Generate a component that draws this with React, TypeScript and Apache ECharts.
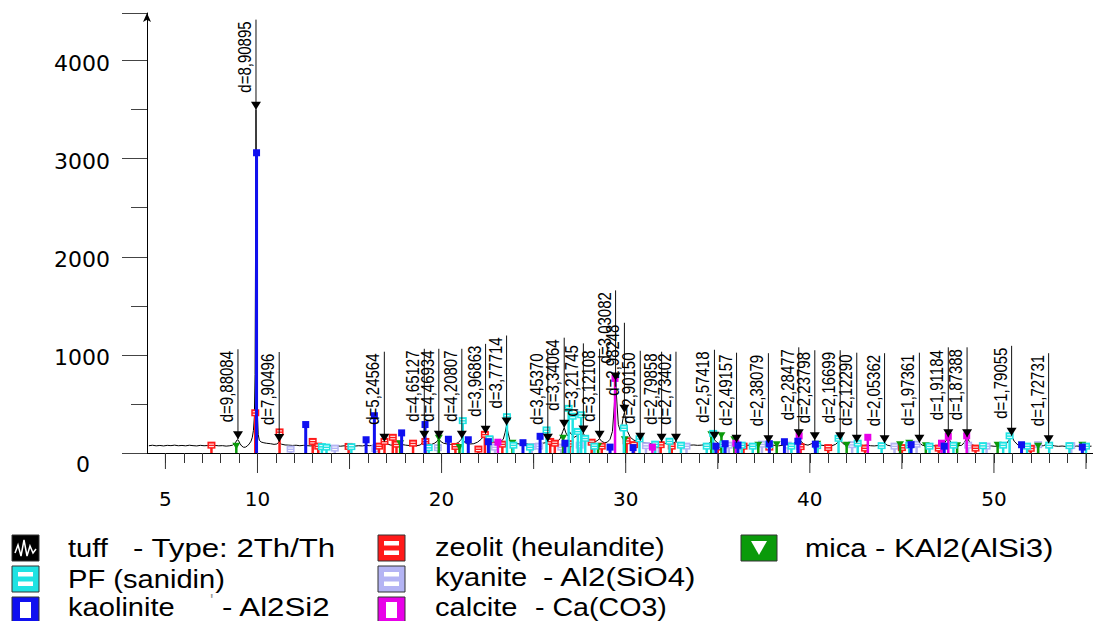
import React, { useEffect, useRef } from 'react';
import * as echarts from 'echarts';

// ---- measured tuff profile: [2theta, counts] ----
const tuffProfile: [number, number][] = [
  [4.1,74],[4.3,79],[4.5,73],[4.7,77],[4.9,72],[5.1,78],[5.3,75],[5.5,80],[5.7,74],[5.9,77],[6.1,73],[6.3,79],[6.5,75],[6.7,72],[6.9,78],[7.1,74],[7.3,76],[7.5,71],[7.7,77],[7.9,73],[8.1,75],[8.3,70],[8.5,74],[8.65,80],[8.8,105],[8.9,135],[8.97,128],[9.05,95],[9.15,70],[9.25,58],[9.35,60],[9.45,72],[9.55,92],[9.65,120],[9.72,160],[9.78,230],[9.83,360],[9.87,800],[9.9,2300],[9.92,3500],[9.94,2700],[9.97,1100],[10.0,380],[10.04,190],[10.1,130],[10.2,112],[10.35,104],[10.5,99],[10.7,95],[10.9,88],[11.05,92],[11.18,112],[11.3,90],[11.5,82],[11.7,80],[11.9,77],[12.1,79],[12.3,74],[12.5,78],[12.7,75],[12.9,72],[13.1,77],[13.3,73],[13.5,76],[13.7,71],[13.9,75],[14.1,70],[14.3,74],[14.5,69],[14.7,73],[14.9,70],[15.1,75],[15.3,71],[15.5,74],[15.7,72],[15.9,78],[16.1,74],[16.3,80],[16.5,77],[16.7,88],[16.89,115],[17.05,92],[17.25,80],[17.45,84],[17.65,79],[17.85,86],[18.05,80],[18.25,76],[18.45,78],[18.65,74],[18.85,82],[18.97,110],[19.06,145],[19.15,118],[19.3,92],[19.45,88],[19.6,98],[19.75,118],[19.85,145],[19.95,118],[20.1,100],[20.3,92],[20.5,88],[20.7,90],[20.9,105],[21.0,125],[21.1,145],[21.2,120],[21.35,96],[21.55,92],[21.75,95],[21.95,110],[22.15,140],[22.3,175],[22.39,195],[22.5,165],[22.65,128],[22.8,112],[23.0,108],[23.2,115],[23.35,140],[23.45,210],[23.53,280],[23.6,215],[23.7,135],[23.85,105],[24.05,96],[24.25,92],[24.45,90],[24.65,93],[24.85,88],[25.05,92],[25.25,95],[25.45,98],[25.65,105],[25.77,115],[25.9,104],[26.1,100],[26.3,115],[26.45,150],[26.58,220],[26.66,258],[26.75,205],[26.85,175],[26.95,215],[27.05,190],[27.2,160],[27.35,175],[27.5,195],[27.6,185],[27.7,200],[27.8,165],[27.95,135],[28.1,120],[28.3,112],[28.45,125],[28.58,145],[28.7,118],[28.85,105],[29.0,110],[29.15,140],[29.28,220],[29.38,480],[29.45,740],[29.52,520],[29.6,290],[29.7,230],[29.8,290],[29.88,380],[29.93,410],[30.0,330],[30.1,220],[30.25,160],[30.45,130],[30.6,122],[30.79,125],[30.95,108],[31.15,100],[31.35,96],[31.55,98],[31.75,102],[31.95,115],[32.1,100],[32.3,92],[32.5,95],[32.73,115],[32.9,96],[33.1,88],[33.3,84],[33.5,80],[33.7,82],[33.9,78],[34.1,80],[34.3,84],[34.5,95],[34.7,125],[34.82,135],[34.95,110],[35.1,88],[35.3,84],[35.5,82],[35.7,85],[35.9,92],[36.02,105],[36.15,88],[36.35,80],[36.55,77],[36.75,81],[36.95,76],[37.15,79],[37.35,75],[37.55,82],[37.75,100],[37.9,82],[38.1,76],[38.3,73],[38.5,78],[38.7,74],[38.9,77],[39.1,88],[39.25,120],[39.4,160],[39.52,118],[39.7,88],[39.9,80],[40.1,95],[40.27,130],[40.4,96],[40.6,80],[40.8,76],[41.0,79],[41.2,74],[41.4,88],[41.55,115],[41.65,130],[41.8,96],[42.0,80],[42.2,82],[42.4,90],[42.55,105],[42.7,86],[42.9,76],[43.1,80],[43.3,74],[43.5,72],[43.7,76],[43.9,78],[44.06,100],[44.2,80],[44.4,72],[44.6,70],[44.8,74],[45.0,69],[45.2,73],[45.4,76],[45.6,72],[45.8,80],[45.95,105],[46.1,80],[46.3,72],[46.5,70],[46.7,74],[46.9,71],[47.1,76],[47.3,98],[47.45,140],[47.52,160],[47.65,110],[47.85,80],[48.05,74],[48.25,78],[48.4,110],[48.54,160],[48.68,110],[48.85,80],[49.05,73],[49.25,70],[49.45,74],[49.65,69],[49.85,72],[50.05,68],[50.25,73],[50.45,76],[50.65,88],[50.85,140],[50.96,175],[51.1,120],[51.3,82],[51.5,74],[51.7,70],[51.9,73],[52.1,68],[52.3,72],[52.5,70],[52.7,75],[52.85,88],[52.97,100],[53.1,82],[53.3,72],[53.5,68],[53.7,71],[53.9,67],[54.1,70],[54.3,66],[54.5,71],[54.7,68],[54.9,72],[55.1,67],[55.3,70]
];

// ---- labelled peaks ----
const peakPositions = [8.94, 9.92, 11.18, 16.89, 19.06, 19.85, 21.10, 22.39, 23.53, 25.77, 26.66, 27.70, 28.58, 29.45, 29.93, 30.79, 31.95, 32.73, 34.82, 36.02, 37.75, 39.40, 40.27, 41.65, 42.55, 44.06, 45.95, 47.52, 48.54, 50.96, 52.97];
const peakHeights = [140, 3500, 112, 115, 145, 145, 145, 195, 280, 115, 258, 200, 145, 740, 410, 125, 115, 115, 135, 105, 100, 160, 130, 130, 105, 100, 105, 160, 160, 175, 100];
const peakDLabels = ['9,88084', '8,90895', '7,90496', '5,24564', '4,65127', '4,46934', '4,20807', '3,96863', '3,77714', '3,45370', '3,34064', '3,21745', '3,12108', '3,03082', '2,98248', '2,90150', '2,79858', '2,73402', '2,57418', '2,49157', '2,38079', '2,28477', '2,23798', '2,16699', '2,12290', '2,05362', '1,97361', '1,91184', '1,87388', '1,79055', '1,72731'];

// ---- reference patterns (sticks): [2theta, height] ----
const kaoliniteSticks: [number, number][] = [[9.95,3060],[12.62,290],[15.9,135],[16.35,380],[17.83,205],[19.1,290],[20.37,140],[21.45,135],[22.54,115],[24.42,105],[25.35,170],[26.7,100],[29.15,60],[30.4,55],[34.9,70],[35.4,95],[36.1,80],[37.8,95],[38.62,115],[39.35,120],[40.3,90],[45.5,85],[47.3,70],[51.5,85],[54.8,60]];
const zeolitSticks: [number, number][] = [[7.5,80],[9.88,410],[11.2,215],[13.0,118],[13.3,70],[14.95,67],[16.6,70],[16.9,118],[17.35,160],[17.55,90],[18.45,100],[19.12,118],[20.75,67],[22.0,40],[22.35,190],[22.6,135],[23.3,90],[25.9,118],[26.15,100],[26.95,95],[28.15,110],[28.7,70],[30.05,125],[30.45,85],[31.9,85],[32.5,70],[35.0,60],[36.4,70],[37.8,60],[39.5,65],[41.0,55],[43.0,50],[45.0,55],[47.0,50],[49.0,50],[52.0,48]];
const pfSticks: [number, number][] = [[13.5,65],[13.75,60],[15.1,65],[19.3,55],[21.15,330],[22.6,145],[23.55,370],[23.9,80],[24.8,60],[25.7,235],[26.9,455],[27.12,375],[27.4,220],[27.58,390],[27.8,150],[28.3,70],[29.9,255],[30.75,145],[31.6,90],[32.38,120],[33.0,80],[34.4,70],[34.75,200],[35.3,90],[36.3,80],[36.9,70],[37.8,85],[39.0,70],[40.4,75],[41.56,150],[42.6,100],[43.9,75],[45.4,80],[46.5,70],[47.8,80],[49.4,75],[50.5,80],[50.85,175],[51.8,70],[53.0,80],[54.1,75],[55.0,70]];
const kyaniteSticks: [number, number][] = [[11.8,40],[14.2,50],[16.4,45],[19.8,55],[22.9,60],[24.9,65],[25.3,70],[26.5,60],[27.5,80],[31.1,75],[31.8,85],[33.3,70],[35.6,80],[37.4,90],[38.8,80],[42.3,85],[44.6,70],[45.8,90],[48.6,80],[49.6,70],[52.4,85],[54.2,75]];
const calciteSticks: [number, number][] = [[23.06,110],[29.42,760],[31.45,60],[35.98,100],[39.42,175],[43.15,160],[47.15,100],[47.52,170],[48.52,175]];
const micaSticks: [number, number][] = [[8.85,70],[17.75,95],[19.85,150],[20.97,55],[23.85,100],[26.6,150],[28.5,67],[29.95,135],[34.65,185],[35.2,175],[35.9,135],[37.2,80],[38.2,85],[40.4,90],[42.0,80],[44.9,85],[45.4,100],[46.3,75],[48.0,75],[50.2,80],[52.4,70],[54.8,80]];

// ---- axis ticks / labels ----
const xLabelValues = [5, 10, 20, 30, 40, 50];
const xLongTicks = [5, 10, 15, 20, 25, 30, 35, 40, 45, 50, 55];

// ---- legend texts ----
const legendNames = ['tuff', 'PF (sanidin)', 'kaolinite', 'zeolit (heulandite)', 'kyanite', 'calcite', 'mica'];
const legendFormulas = ['- Type: 2Th/Th', '', '- Al2Si2', '', '- Al2(SiO4)', '- Ca(CO3)', '- KAl2(AlSi3)'];

const C = {
  zeolit: '#ff1a1a',
  pf: '#1fe3e3',
  kaolinite: '#1010f0',
  kyanite: '#b4b4f4',
  calcite: '#e800e8',
  mica: '#0a9a0a',
};

function stickSeries(name: string, data: [number, number][], color: string, marker: 'bars' | 'solid' | 'tri', lw: number, z: number) {
  return {
    type: 'custom',
    name,
    data,
    z,
    silent: true,
    encode: { x: 0, y: 1 },
    renderItem: (params: any, api: any) => {
      const x = api.value(0);
      const v = api.value(1);
      const b = api.coord([x, 0]);
      const t = api.coord([x, v]);
      const children: any[] = [
        { type: 'line', shape: { x1: b[0], y1: b[1], x2: t[0], y2: t[1] }, style: { stroke: color, lineWidth: lw } },
      ];
      if (marker === 'solid') {
        children.push({ type: 'rect', shape: { x: t[0] - 3.5, y: t[1] - 3.5, width: 7, height: 7 }, style: { fill: color } });
      } else if (marker === 'bars') {
        children.push({ type: 'rect', shape: { x: t[0] - 4, y: t[1] - 3.5, width: 8, height: 7 }, style: { fill: color } });
        children.push({ type: 'line', shape: { x1: t[0] - 2.5, y1: t[1] - 1, x2: t[0] + 2.5, y2: t[1] - 1 }, style: { stroke: '#fff', lineWidth: 1 } });
        children.push({ type: 'line', shape: { x1: t[0] - 2.5, y1: t[1] + 1.5, x2: t[0] + 2.5, y2: t[1] + 1.5 }, style: { stroke: '#fff', lineWidth: 1 } });
      } else {
        children.push({ type: 'polygon', shape: { points: [[t[0] - 4, t[1] - 3.5], [t[0] + 4, t[1] - 3.5], [t[0], t[1] + 3]] }, style: { fill: color } });
      }
      return { type: 'group', children };
    },
  };
}

function buildLegend() {
  const els: any[] = [];
  const font = '26px "Liberation Sans", Arial, sans-serif';
  const box = (x: number, y: number, w: number, h: number, fill: string) => ({
    type: 'rect', shape: { x, y, width: w, height: h }, style: { fill, stroke: '#333', lineWidth: 1 },
  });
  const bars = (x: number, y: number, w: number, h: number) => [
    { type: 'rect', shape: { x: x + 6, y: y + 6, width: w - 12, height: 4.5 }, style: { fill: '#fff' } },
    { type: 'rect', shape: { x: x + 6, y: y + h - 10.5, width: w - 12, height: 4.5 }, style: { fill: '#fff' } },
  ];
  const hollow = (x: number, y: number, w: number, h: number) => [
    { type: 'rect', shape: { x: x + 8, y: y + 5, width: w - 16, height: h - 10 }, style: { fill: '#fff' } },
  ];
  const text = (x: number, y: number, s: string, sx = 1.12) => ({
    type: 'text', x, y, scaleX: sx,
    style: { text: s, font, fill: '#000', align: 'left', verticalAlign: 'middle' },
  });
  // column 1
  els.push(box(12, 535, 27, 26, '#000'));
  els.push({ type: 'polyline', shape: { points: [[15, 553], [18, 545], [21, 556], [24, 540], [27, 556], [30, 546], [33, 553], [36, 549]] }, style: { stroke: '#fff', lineWidth: 1.5, fill: 'none' } });
  els.push(text(68, 548, legendNames[0]));
  els.push(text(133, 548, legendFormulas[0], 1.2));
  els.push(box(12, 566, 27, 26, C.pf));
  els.push(...bars(12, 566, 27, 26));
  els.push(text(68, 579, legendNames[1]));
  els.push(box(12, 597, 27, 26, C.kaolinite));
  els.push(...hollow(12, 597, 27, 26));
  els.push(text(68, 607, legendNames[2]));
  els.push(text(222, 607, legendFormulas[2], 1.2));
  els.push({ type: 'text', x: 210, y: 601, style: { text: "'", font: '18px "Liberation Sans", Arial', fill: '#999', align: 'left', verticalAlign: 'middle' } });
  // column 2
  els.push(box(378, 535, 27, 26, C.zeolit));
  els.push(...bars(378, 535, 27, 26));
  els.push(text(435, 547, legendNames[3]));
  els.push(box(378, 566, 27, 26, C.kyanite));
  els.push(...bars(378, 566, 27, 26));
  els.push(text(435, 577, legendNames[4]));
  els.push(text(543, 577, legendFormulas[4], 1.2));
  els.push(box(378, 597, 27, 26, C.calcite));
  els.push(...hollow(378, 597, 27, 26));
  els.push(text(435, 607, legendNames[5]));
  els.push(text(535, 607, legendFormulas[5], 1.1));
  // column 3
  els.push(box(741, 535, 36, 26, C.mica));
  els.push({ type: 'polygon', shape: { points: [[751, 541], [767, 541], [759, 555]] }, style: { fill: '#fff' } });
  els.push(text(805, 548, legendNames[6]));
  els.push(text(875, 548, legendFormulas[6], 1.2));
  return els;
}

export default function App() {
  const ref = useRef<HTMLDivElement>(null);
  useEffect(() => {
    if (!ref.current) return;
    const chart = echarts.init(ref.current, null, { renderer: 'svg' });
    const axisFont = { fontFamily: '"DejaVu Sans", sans-serif', fontSize: 20, color: '#000' };
    const yFont = { fontFamily: '"DejaVu Sans", sans-serif', fontSize: 22, color: '#000' };
    const option: any = {
      animation: false,
      backgroundColor: '#fff',
      grid: { left: 147, right: 0, top: 13, bottom: 168, containLabel: false },
      xAxis: {
        type: 'value',
        min: 4,
        max: 55.38,
        interval: 1,
        axisLine: { show: true, onZero: false, lineStyle: { color: '#000', width: 1 } },
        axisTick: { show: true, length: 10, lineStyle: { color: '#333' } },
        splitLine: { show: false },
        axisLabel: {
          ...axisFont,
          margin: 36,
          showMinLabel: false,
          showMaxLabel: false,
          formatter: (v: number) => {
            const r = Math.round(v);
            return Math.abs(v - r) < 1e-6 && xLabelValues.includes(r) ? String(r) : '';
          },
        },
      },
      yAxis: {
        type: 'value',
        min: 0,
        max: 4485,
        interval: 1000,
        axisLine: { show: true, symbol: ['none', 'arrow'], symbolSize: [6, 9], lineStyle: { color: '#000', width: 1 } },
        axisTick: { show: true, length: 25, lineStyle: { color: '#444' } },
        minorTick: { show: true, splitNumber: 2, length: 16, lineStyle: { color: '#444' } },
        splitLine: { show: false },
        minorSplitLine: { show: false },
        axisLabel: {
          ...yFont,
          margin: 37,
          showMaxLabel: false,
          padding: [5, 0, 0, 0],
          formatter: (v: number) => (v === 0 ? '{z|0}' : v % 1000 === 0 ? String(v) : ''),
          rich: { z: { ...yFont, padding: [18, 20, 0, 0] } },
        },
      },
      series: [
        {
          type: 'line',
          name: 'tuff',
          data: tuffProfile,
          showSymbol: false,
          symbol: 'none',
          z: 2,
          silent: true,
          lineStyle: { color: '#000', width: 1 },
        },
        stickSeries('kyanite', kyaniteSticks, C.kyanite, 'bars', 2.5, 3),
        stickSeries('zeolit', zeolitSticks, C.zeolit, 'bars', 2.5, 4),
        stickSeries('mica', micaSticks, C.mica, 'tri', 2.5, 5),
        stickSeries('PF', pfSticks, C.pf, 'bars', 2.5, 6),
        stickSeries('calcite', calciteSticks, C.calcite, 'solid', 2.5, 7),
        stickSeries('kaolinite', kaoliniteSticks, C.kaolinite, 'solid', 3, 8),
        {
          type: 'custom',
          name: 'peaks',
          z: 10,
          silent: true,
          encode: { x: 0, y: 1 },
          data: peakPositions.map((p, i) => [p, peakHeights[i]]),
          renderItem: (params: any, api: any) => {
            const tip = api.coord([api.value(0), api.value(1)]);
            const lx = tip[0];
            return {
              type: 'group',
              children: [
                { type: 'line', shape: { x1: lx, y1: tip[1] - 90, x2: lx, y2: tip[1] }, style: { stroke: '#111', lineWidth: 1 } },
                { type: 'polygon', shape: { points: [[lx - 5, tip[1] - 8], [lx + 5, tip[1] - 8], [lx, tip[1]]] }, style: { fill: '#000' } },
                {
                  type: 'text', x: lx - 2, y: tip[1] - 17, rotation: Math.PI / 2, scaleY: 1.2,
                  style: { text: 'd=' + peakDLabels[params.dataIndex], font: '15px "Liberation Sans", Arial, sans-serif', fill: '#000', align: 'left', verticalAlign: 'bottom' },
                },
              ],
            };
          },
        },
        {
          type: 'custom',
          name: 'xticks',
          z: 1,
          silent: true,
          clip: false,
          encode: { x: 0, y: 1 },
          data: xLongTicks.map((v) => [v, 0]),
          renderItem: (params: any, api: any) => {
            const v = api.value(0);
            const p = api.coord([v, 0]);
            const len = v % 10 === 0 ? 20 : 16;
            return { type: 'line', shape: { x1: p[0], y1: p[1], x2: p[0], y2: p[1] + len }, style: { stroke: '#333', lineWidth: 1 } };
          },
        },
      ],
      graphic: { elements: buildLegend() },
    };
    chart.setOption(option);
    return () => chart.dispose();
  }, []);
  return <div ref={ref} style={{ position: 'absolute', left: 0, top: 0, width: 1093, height: 621, background: '#fff' }} />;
}
